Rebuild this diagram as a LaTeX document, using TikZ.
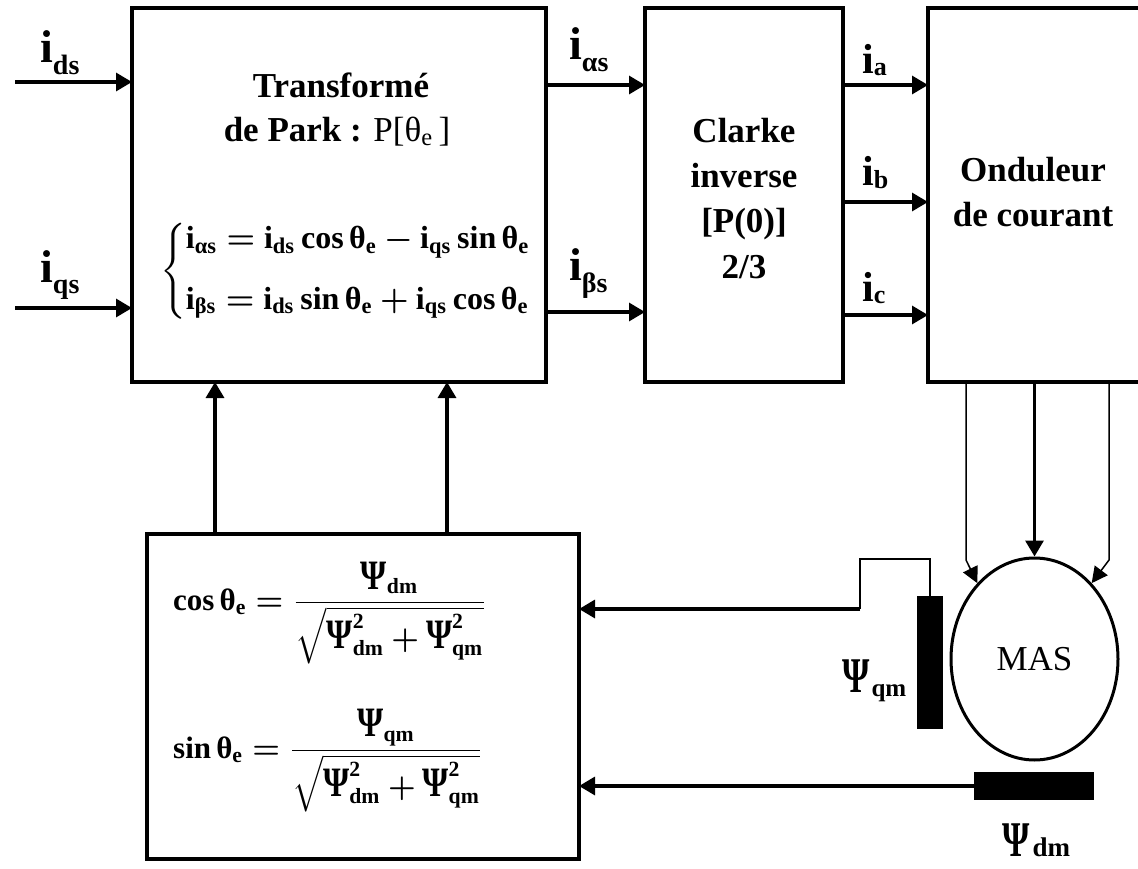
\documentclass[tikz,border=0pt]{standalone}
\usepackage{amsmath}
\usepackage{graphicx}
\usepackage{fontspec}
\setmainfont{Liberation Serif}
\usetikzlibrary{arrows.meta,shapes.geometric}
\newcommand{\tb}[1]{\text{\bfseries #1}}
\newcommand{\PS}{\text{\fontsize{13.5}{13.5}\selectfont\bfseries\scalebox{0.8}[1]{Ψ}}}
\newcommand{\bigi}{{\fontsize{46}{46}\selectfont\bfseries i}}
\newcommand{\midi}{{\fontsize{42}{42}\selectfont\bfseries i}}
\newcommand{\subl}[1]{\raisebox{-12pt}{\fontsize{28}{28}\selectfont\bfseries #1}}
\newcommand{\subs}[1]{\raisebox{-2pt}{\fontsize{26}{26}\selectfont\bfseries #1}}
\newcommand{\bigpsi}{{\fontsize{50}{50}\selectfont\bfseries\scalebox{0.7}[1]{Ψ}}}
\tikzset{
  box/.style={draw, line width=3.5pt, inner sep=0pt, outer sep=0pt},
  arr/.style={line width=3.2pt, -{Triangle[length=16pt,width=18pt]}},
  thinarr/.style={line width=1.5pt, -{Triangle[length=16pt,width=16pt]}},
  thinline/.style={line width=1.5pt},
  txt/.style={inner sep=0pt, anchor=base, font=\fontsize{35}{35}\selectfont\bfseries},
  lbl/.style={inner sep=0pt, anchor=base west},
  bar/.style={fill=black, inner sep=0pt, outer sep=0pt}
}
\begin{document}
\begin{tikzpicture}[x=1pt,y=-1pt]
\useasboundingbox (0,0) rectangle (1138,869);
% boxes
\node[box, minimum width=414pt, minimum height=374pt] (park) at (339,195) {};
\node[box, minimum width=198pt, minimum height=374pt] (clarke) at (744,195) {};
\node[inner sep=0pt, outer sep=0pt, minimum width=210pt, minimum height=374pt] (ond) at (1033,195) {};
\draw[line width=3.5pt] (ond.north east) -- (ond.north west) -- (ond.south west) -- (ond.south east);
\node[box, minimum width=432pt, minimum height=325pt] (bot) at (363,696.5) {};
% texts in boxes
\node[txt] (t1) at (341,98) {Transformé};
\node[txt] (t2) at (337,142) {de Park : {\mdseries P[θ\textsubscript{e}\,]}};
\node[inner sep=0pt, anchor=west] (eqpark) at (160,271) {\scalebox{3.2}{$\left\{\begin{array}{@{}l@{}}
\tb{i}_{\tb{αs}} \mathrel{\boldsymbol{=}} \tb{i}_{\tb{ds}}\,\tb{cos}\,\tb{θ}_{\tb{e}} \mathbin{\boldsymbol{-}} \tb{i}_{\tb{qs}}\,\tb{sin}\,\tb{θ}_{\tb{e}}\\[7pt]
\tb{i}_{\tb{βs}} \mathrel{\boldsymbol{=}} \tb{i}_{\tb{ds}}\,\tb{sin}\,\tb{θ}_{\tb{e}} \mathbin{\boldsymbol{+}} \tb{i}_{\tb{qs}}\,\tb{cos}\,\tb{θ}_{\tb{e}}
\end{array}\right.$}};
\node[txt] (c1) at (744,143) {Clarke};
\node[txt] (c2) at (744,188) {inverse};
\node[txt] (c3) at (744,233) {[P(0)]};
\node[txt] (c4) at (744,278) {2/3};
\node[txt] (o1) at (1033,182) {Onduleur};
\node[txt] (o2) at (1033,227) {de courant};
\node[inner sep=0pt, anchor=base west] (fcos) at (173,610) {\scalebox{3.1}{$\displaystyle \tb{cos}\,\tb{θ}_{\tb{e}} \mathrel{\boldsymbol{=}} \frac{\PS_{\tb{dm}}}{\sqrt{\PS^{\tb{2}}_{\tb{dm}} \mathbin{\boldsymbol{+}} \PS^{\tb{2}}_{\tb{qm}}}}$}};
\node[inner sep=0pt, anchor=base west] (fsin) at (173,758) {\scalebox{3.1}{$\displaystyle \tb{sin}\,\tb{θ}_{\tb{e}} \mathrel{\boldsymbol{=}} \frac{\PS_{\tb{qm}}}{\sqrt{\PS^{\tb{2}}_{\tb{dm}} \mathbin{\boldsymbol{+}} \PS^{\tb{2}}_{\tb{qm}}}}$}};
% machine and sensors
\node[draw, ellipse, line width=3pt, inner sep=0pt, minimum width=167pt, minimum height=202pt, font=\fontsize{35}{35}\selectfont] (mas) at (1034.5,659) {MAS};
\node[bar, minimum width=26pt, minimum height=133pt] (psiq) at (930,662.5) {};
\node[bar, minimum width=120pt, minimum height=28pt] (psid) at (1034,786) {};
% labels
\node[lbl] (lds) at (40,63) {\bigi\subl{ds}};
\node[lbl] (lqs) at (40,282) {\bigi\subl{qs}};
\node[lbl] (lal) at (569,60) {\bigi\subl{αs}};
\node[lbl] (lbe) at (569,280) {\bigi\subl{βs}};
\node[lbl] (la) at (862,74) {\midi\subs{a}};
\node[lbl] (lb) at (862,186) {\midi\subs{b}};
\node[lbl] (lc) at (862,301) {\midi\subs{c}};
\node[lbl] (lpq) at (842,692) {\bigpsi\kern2pt\raisebox{-4pt}{\fontsize{25}{25}\selectfont\bfseries qm}};
\node[lbl] (lpd) at (1002,856) {\bigpsi\kern3pt{\fontsize{27}{27}\selectfont\bfseries dm}};
% coordinates
\coordinate (src1) at (15,82);
\coordinate (src2) at (15,308);
\coordinate (yal) at (0,85);
\coordinate (ybe) at (0,312);
\coordinate (ya) at (0,85);
\coordinate (yb) at (0,202);
\coordinate (yc) at (0,315);
\coordinate (xu1) at (215,0);
\coordinate (xu2) at (447,0);
\coordinate (kl) at (966,560);
\coordinate (kr) at (1109,560);
\coordinate (kq1) at (860,559);
\coordinate (kq2) at (860,609);
% connectors
\draw[arr] (src1) -- (src1 -| park.west);
\draw[arr] (src2) -- (src2 -| park.west);
\draw[arr] (park.east |- yal) -- (clarke.west |- yal);
\draw[arr] (park.east |- ybe) -- (clarke.west |- ybe);
\draw[arr] (clarke.east |- ya) -- (ond.west |- ya);
\draw[arr] (clarke.east |- yb) -- (ond.west |- yb);
\draw[arr] (clarke.east |- yc) -- (ond.west |- yc);
\draw[arr] (bot.north -| xu1) -- (park.south -| xu1);
\draw[arr] (bot.north -| xu2) -- (park.south -| xu2);
\draw[thinarr] (ond.south -| kl) -- (kl) -- (mas.127);
\draw[arr] (ond.south -| mas.north) -- (mas.north);
\draw[thinarr] (ond.south -| kr) -- (kr) -- (mas.53);
\draw[thinline] (psiq.north) -- (psiq.north |- kq1) -- (kq1) -- (kq2);
\draw[arr] (kq2) -- (bot.east |- kq2);
\draw[arr] (psid.west) -- (bot.east |- psid.west);
\end{tikzpicture}
\end{document}
